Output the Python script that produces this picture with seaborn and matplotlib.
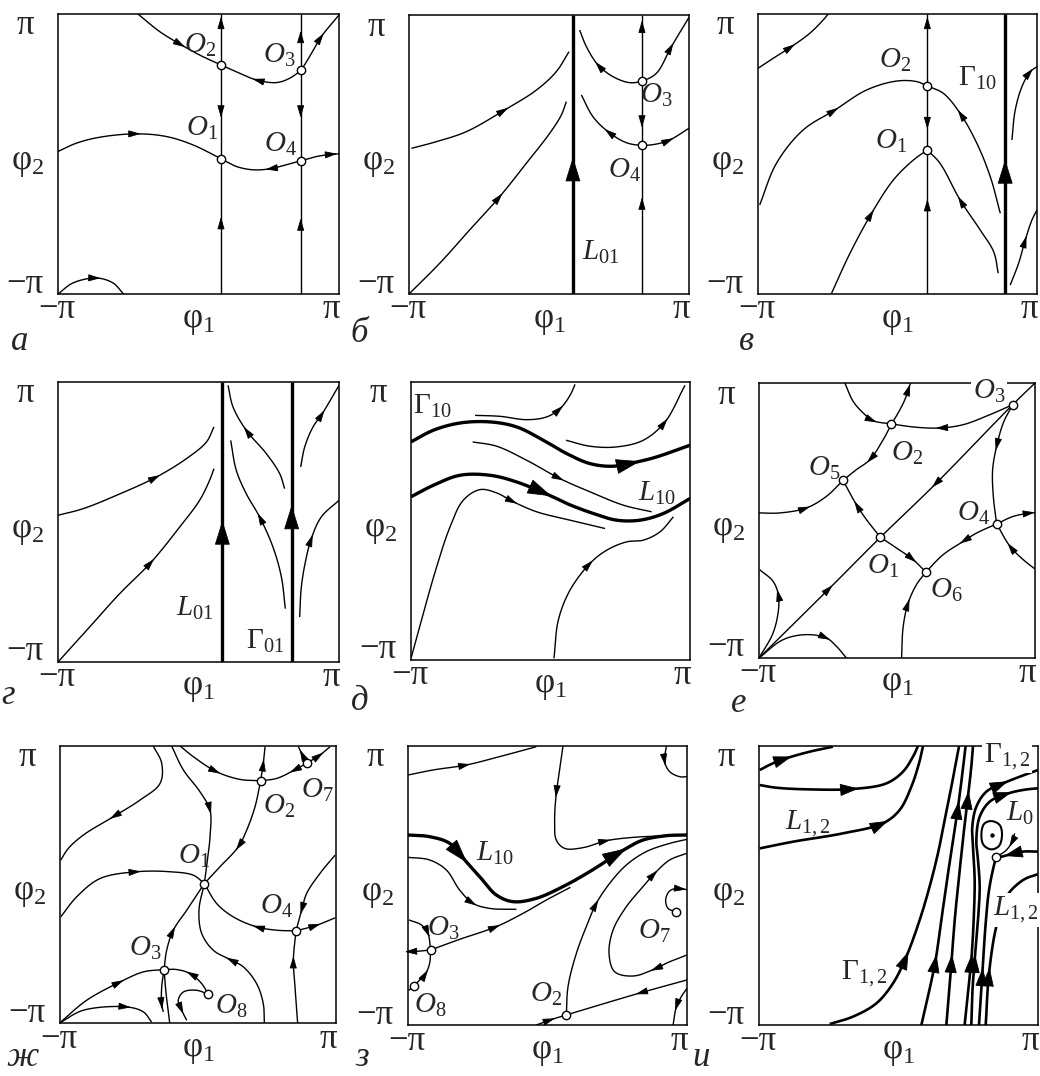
import numpy as np
import matplotlib
matplotlib.use("Agg")
import matplotlib.pyplot as plt
import seaborn as sns

sns.set_theme(style="white")
plt.rcParams["font.family"] = ["Liberation Serif", "DejaVu Serif"]
plt.rcParams["mathtext.fontset"] = "custom"
plt.rcParams["mathtext.rm"] = "Liberation Serif"
plt.rcParams["mathtext.it"] = "Liberation Serif:italic"
plt.rcParams["mathtext.bf"] = "Liberation Serif:bold"

# Phase portraits on the torus (phi1, phi2), coordinates in units of pi.

# ---------------- panel а ----------------
A_CURVES = {
    "stem_o1_o2": [(0.16, -1), (0.16, -0.48), (0.16, -0.034), (0.16, 0.29), (0.16, 0.636), (0.16, 0.95), (0.16, 1)],
    "stem_o4_o3": [(0.727, -1), (0.727, -0.49), (0.727, -0.049), (0.727, 0.29), (0.727, 0.60), (0.727, 0.85), (0.727, 1)],
    "sep_o2_o3": [(-0.431, 1), (-0.276, 0.874), (-0.122, 0.779), (0.008, 0.707), (0.16, 0.636), (0.293, 0.577),
                  (0.412, 0.529), (0.554, 0.510), (0.649, 0.541), (0.727, 0.60), (0.791, 0.696), (0.874, 0.838),
                  (1.0, 0.993)],
    "sep_o1_o4": [(-1, 0.018), (-0.870, 0.077), (-0.703, 0.120), (-0.442, 0.144), (-0.229, 0.125), (-0.039, 0.065),
                  (0.16, -0.034), (0.269, -0.089), (0.388, -0.113), (0.507, -0.106), (0.625, -0.077),
                  (0.727, -0.049), (0.839, -0.018), (0.957, -0.001), (1.0, 0.001)],
    "corner_arc": [(-1, -1), (-0.893, -0.921), (-0.727, -0.886), (-0.609, -0.921), (-0.533, -1)],
}
A_NODES = [(0.16, 0.636), (0.727, 0.60), (0.16, -0.034), (0.727, -0.049)]
A_LABELS = [("$O_2$", 0.008, 0.779), ("$O_3$", 0.578, 0.707), ("$O_1$", 0.025, 0.184), ("$O_4$", 0.582, 0.065)]

# ---------------- panel б ----------------
B_CURVES = {
    "l01": [(0.171, -1), (0.171, -0.02), (0.171, 1)],
    "stem": [(0.664, -1), (0.664, -0.338), (0.664, 0.066), (0.664, 0.223), (0.664, 0.527), (0.664, 0.93), (0.664, 1)],
    "sep_o3": [(0.219, 0.892), (0.267, 0.773), (0.350, 0.642), (0.457, 0.558), (0.576, 0.515), (0.664, 0.527),
               (0.767, 0.582), (0.874, 0.773), (1.0, 0.983)],
    "sep_o4": [(0.231, 0.427), (0.314, 0.271), (0.421, 0.164), (0.552, 0.085), (0.664, 0.066), (0.767, 0.075),
               (0.862, 0.104), (1.0, 0.188)],
    "upper_left": [(-0.983, 0.044), (-0.805, 0.092), (-0.590, 0.164), (-0.317, 0.319), (-0.090, 0.462),
                   (0.052, 0.594), (0.143, 0.737)],
    "diagonal": [(-1, -1), (-0.781, -0.780), (-0.567, -0.541), (-0.352, -0.302), (-0.162, -0.063), (0.005, 0.152),
                 (0.088, 0.283), (0.124, 0.379)],
}
B_NODES = [(0.664, 0.527), (0.664, 0.066)]
B_LABELS = [("$O_3$", 0.767, 0.422), ("$O_4$", 0.540, -0.111), ("$L_{01}$", 0.367, -0.701)]

# ---------------- panel в ----------------
C_CURVES = {
    "stem": [(0.214, -1), (0.214, -0.352), (0.214, 0.029), (0.214, 0.207), (0.214, 0.486), (0.214, 0.95), (0.214, 1)],
    "gamma10": [(0.772, -1), (0.772, -0.04), (0.772, 1)],
    "corner_tl": [(-1, 0.612), (-0.892, 0.683), (-0.760, 0.767), (-0.629, 0.862), (-0.533, 0.957), (-0.497, 1)],
    "o2_left": [(-0.988, -0.364), (-0.868, -0.067), (-0.677, 0.171), (-0.449, 0.314), (-0.222, 0.457),
                (-0.006, 0.521), (0.138, 0.517), (0.214, 0.486)],
    "o2_right": [(0.214, 0.486), (0.329, 0.433), (0.449, 0.290), (0.569, 0.076), (0.665, -0.162), (0.737, -0.424)],
    "o1_left": [(-0.473, -0.995), (-0.341, -0.710), (-0.186, -0.424), (-0.030, -0.186), (0.114, -0.043),
                (0.214, 0.029)],
    "o1_right": [(0.214, 0.029), (0.305, -0.067), (0.449, -0.329), (0.593, -0.543), (0.690, -0.700), (0.722, -0.852)],
    "right_upper": [(0.820, 0.10), (0.844, 0.314), (0.892, 0.481), (0.952, 0.588), (1.0, 0.624)],
    "right_lower": [(0.808, -0.936), (0.868, -0.781), (0.916, -0.614), (0.964, -0.471), (1.0, -0.40)],
}
C_NODES = [(0.214, 0.486), (0.214, 0.029)]
C_LABELS = [("$O_2$", -0.018, 0.671), ("$O_1$", -0.049, 0.088), (r"$\Gamma_{10}$", 0.569, 0.540)]

# ---------------- panel г ----------------
D_CURVES = {
    "l01": [(0.170, -1), (0.170, 0.01), (0.170, 1)],
    "gamma01": [(0.663, -1), (0.663, 0.12), (0.663, 1)],
    "upper_left": [(-1, 0.048), (-0.822, 0.095), (-0.585, 0.190), (-0.300, 0.321), (-0.087, 0.452),
                   (0.056, 0.571), (0.110, 0.679)],
    "diagonal": [(-1, -1), (-0.775, -0.750), (-0.561, -0.512), (-0.336, -0.286), (-0.134, -0.036), (0.008, 0.155),
                 (0.079, 0.298), (0.110, 0.381)],
    "mid_upper": [(0.613, 0.238), (0.578, 0.345), (0.483, 0.488), (0.340, 0.655), (0.246, 0.821), (0.210, 0.976)],
    "mid_lower": [(0.618, -0.619), (0.590, -0.393), (0.530, -0.179), (0.435, 0.036), (0.340, 0.202),
                  (0.269, 0.369), (0.229, 0.583)],
    "right_upper": [(0.727, 0.393), (0.756, 0.536), (0.815, 0.679), (0.881, 0.774), (1.0, 0.976)],
    "right_lower": [(0.720, -0.679), (0.732, -0.464), (0.763, -0.274), (0.803, -0.119), (0.874, 0.036),
                    (1.0, 0.155)],
}
D_NODES = []
D_LABELS = [("$L_{01}$", -0.027, -0.619), (r"$\Gamma_{01}$", 0.476, -0.850)]

# ---------------- panel д ----------------
E_CURVES = {
    "gamma10": [(-1, 0.569), (-0.840, 0.653), (-0.649, 0.705), (-0.434, 0.713), (-0.243, 0.677), (-0.051, 0.581),
                (0.116, 0.485), (0.283, 0.413), (0.450, 0.394), (0.642, 0.43), (0.761, 0.461), (1.0, 0.545)],
    "l10": [(-1, 0.174), (-0.840, 0.257), (-0.649, 0.329), (-0.434, 0.329), (-0.243, 0.281), (0.008, 0.178),
            (0.116, 0.126), (0.307, 0.054), (0.474, 0.006), (0.642, 0.006), (0.809, 0.054), (1.0, 0.162)],
    "top_short": [(-0.541, 0.760), (-0.362, 0.753), (-0.171, 0.729), (-0.027, 0.749), (0.068, 0.808),
                  (0.140, 0.904), (0.176, 0.983)],
    "upper_right": [(0.111, 0.581), (0.283, 0.538), (0.474, 0.533), (0.665, 0.581), (0.821, 0.713), (0.964, 0.976)],
    "between": [(-0.558, 0.569), (-0.386, 0.538), (-0.171, 0.437), (0.068, 0.305), (0.283, 0.210), (0.522, 0.114),
                (0.725, 0.066)],
    "from_corner": [(-1, -0.988), (-0.912, -0.665), (-0.816, -0.329), (-0.720, -0.042), (-0.625, 0.150),
                    (-0.505, 0.226), (-0.386, 0.202), (-0.266, 0.138), (-0.099, 0.066), (0.140, 0.006),
                    (0.391, -0.054)],
    "from_bottom": [(0.025, -0.988), (0.056, -0.713), (0.140, -0.497), (0.283, -0.305), (0.403, -0.210),
                    (0.546, -0.150), (0.665, -0.138), (0.785, -0.078), (0.881, 0.030)],
}
E_NODES = []
E_LABELS = [(r"$\Gamma_{10}$", -0.847, 0.825), ("$L_{10}$", 0.766, 0.198)]

# ---------------- panel е ----------------
F_CURVES = {
    "diagonal": [(-1, -1), (-0.487, -0.491), (-0.120, -0.122), (0.274, 0.261), (0.838, 0.842), (1, 1)],
    "o3_o2": [(0.838, 0.842), (0.674, 0.770), (0.480, 0.697), (0.311, 0.673), (0.141, 0.678), (-0.040, 0.702)],
    "top_o2": [(-0.378, 1), (-0.318, 0.867), (-0.245, 0.782), (-0.173, 0.726), (-0.040, 0.702)],
    "o2_top": [(-0.040, 0.702), (0.008, 0.782), (0.057, 0.879), (0.086, 0.964), (0.098, 1)],
    "o2_o5": [(-0.040, 0.702), (-0.100, 0.588), (-0.197, 0.442), (-0.294, 0.370), (-0.391, 0.292)],
    "left_o5": [(-1, 0.055), (-0.850, 0.055), (-0.657, 0.091), (-0.511, 0.176), (-0.391, 0.292)],
    "o1_o5": [(-0.120, -0.122), (-0.221, 0.006), (-0.294, 0.115), (-0.391, 0.292)],
    "o1_o6": [(-0.120, -0.122), (-0.004, -0.200), (0.117, -0.285), (0.209, -0.375)],
    "o4_o6": [(0.722, -0.025), (0.577, -0.091), (0.480, -0.152), (0.335, -0.248), (0.209, -0.375)],
    "o4_right": [(0.722, -0.025), (0.843, 0.030), (0.970, 0.055), (1, 0.057)],
    "o3_o4": [(0.838, 0.842), (0.770, 0.709), (0.722, 0.539), (0.693, 0.370), (0.698, 0.176), (0.722, -0.025)],
    "right_o4": [(1, -0.353), (0.915, -0.285), (0.819, -0.188), (0.722, -0.025)],
    "corner_up": [(-1, -1), (-0.898, -0.818), (-0.858, -0.64), (-0.862, -0.53), (-0.90, -0.44), (-0.995, -0.358)],
    "corner_right": [(-1, -1), (-0.826, -0.867), (-0.657, -0.830), (-0.511, -0.855), (-0.439, -0.915), (-0.366, -1)],
    "bottom_o6": [(0.033, -1), (0.045, -0.770), (0.081, -0.600), (0.141, -0.467), (0.209, -0.375)],
}
F_NODES = [(0.838, 0.842), (-0.040, 0.702), (-0.391, 0.292), (-0.120, -0.122), (0.722, -0.025), (0.209, -0.375)]
F_LABELS = [("$O_3$", 0.666, 0.939), ("$O_2$", 0.074, 0.491), ("$O_5$", -0.524, 0.382), ("$O_4$", 0.553, 0.055),
            ("$O_1$", -0.100, -0.333), ("$O_6$", 0.359, -0.508)]

# ---------------- panel ж ----------------
G_CURVES = {
    "top_left": [(-0.324, 1), (-0.263, 0.875), (-0.275, 0.730), (-0.420, 0.610), (-0.614, 0.489), (-0.831, 0.357),
                 (-0.940, 0.260), (-0.995, 0.176)],
    "top_o1": [(-0.191, 1), (-0.106, 0.827), (0.014, 0.670), (0.087, 0.537), (0.087, 0.345), (0.068, 0.176),
               (0.046, 0.007)],
    "top_o2": [(-0.130, 1), (-0.034, 0.923), (0.135, 0.814), (0.304, 0.759), (0.454, 0.749)],
    "o2_up": [(0.454, 0.749), (0.473, 0.875), (0.486, 0.995)],
    "o7_o2": [(0.787, 0.875), (0.691, 0.822), (0.570, 0.766), (0.454, 0.749)],
    "o7_left": [(0.787, 0.875), (0.751, 0.947), (0.727, 0.995)],
    "o7_right": [(0.787, 0.875), (0.884, 0.935), (0.957, 0.995)],
    "o2_o1": [(0.454, 0.749), (0.413, 0.561), (0.353, 0.393), (0.292, 0.272), (0.159, 0.128), (0.046, 0.007)],
    "left_o1": [(-0.995, -0.234), (-0.879, -0.089), (-0.710, 0.043), (-0.444, 0.092), (-0.203, 0.092),
                (-0.034, 0.067), (0.046, 0.007)],
    "o4_o1": [(0.710, -0.335), (0.570, -0.330), (0.425, -0.306), (0.256, -0.234), (0.135, -0.137), (0.046, 0.007)],
    "o4_right": [(0.710, -0.335), (0.860, -0.294), (0.993, -0.241)],
    "right_o4": [(0.993, 0.212), (0.884, 0.080), (0.787, -0.065), (0.751, -0.186), (0.710, -0.335)],
    "bottom_o4": [(0.722, -1), (0.703, -0.740), (0.691, -0.547), (0.710, -0.335)],
    "bottom_o1": [(0.481, -1), (0.473, -0.860), (0.425, -0.716), (0.329, -0.595), (0.232, -0.542), (0.111, -0.475),
                  (0.027, -0.354), (0.007, -0.186), (0.046, 0.007)],
    "o3_o1": [(-0.246, -0.614), (-0.227, -0.475), (-0.179, -0.330), (-0.082, -0.186), (0.046, 0.007)],
    "o3_down": [(-0.246, -0.614), (-0.263, -0.740), (-0.263, -0.872), (-0.251, -0.920)],
    "o3_bottom": [(-0.246, -0.614), (-0.232, -0.78), (-0.215, -0.92), (-0.205, -1)],
    "corner_o3": [(-0.995, -0.993), (-0.807, -0.836), (-0.565, -0.704), (-0.396, -0.631), (-0.246, -0.614)],
    "o8_o3": [(0.075, -0.793), (0.027, -0.716), (-0.058, -0.643), (-0.155, -0.614), (-0.246, -0.614)],
    "o8_loop": [(0.075, -0.793), (-0.010, -0.764), (-0.106, -0.776), (-0.143, -0.836), (-0.118, -0.908),
                (-0.082, -0.981)],
    "corner_arc": [(-0.995, -0.995), (-0.831, -0.908), (-0.517, -0.884), (-0.396, -0.920), (-0.336, -0.993)],
}
G_NODES = [(0.046, 0.007), (0.454, 0.749), (0.787, 0.875), (0.710, -0.335), (-0.246, -0.614), (0.075, -0.793)]
G_LABELS = [("$O_1$", -0.029, 0.200), ("$O_2$", 0.587, 0.561), ("$O_7$", 0.865, 0.682), ("$O_4$", 0.570, -0.161),
            ("$O_3$", -0.384, -0.463), ("$O_8$", 0.237, -0.877)]

# ---------------- panel з ----------------
H_CURVES = {
    "top": [(-1, 0.792), (-0.821, 0.828), (-0.582, 0.864), (-0.343, 0.924), (-0.080, 0.995)],
    "drop": [(0.111, 1), (0.087, 0.828), (0.063, 0.661), (0.051, 0.470), (0.063, 0.326), (0.123, 0.266),
             (0.254, 0.271), (0.422, 0.321), (0.613, 0.345), (0.804, 0.355)],
    "l10": [(-1, 0.362), (-0.845, 0.350), (-0.701, 0.302), (-0.577, 0.164), (-0.486, 0.063), (-0.367, -0.068),
            (-0.247, -0.116), (-0.080, -0.092), (0.111, -0.008), (0.302, 0.099), (0.565, 0.266), (0.685, 0.326),
            (0.852, 0.357), (1, 0.362)],
    "below_l10": [(-1, 0.202), (-0.845, 0.183), (-0.725, 0.111), (-0.630, -0.032), (-0.534, -0.128),
                  (-0.415, -0.164), (-0.223, -0.171)],
    "o3_up": [(-0.838, -0.462), (-0.630, -0.386), (-0.367, -0.295), (-0.176, -0.200), (-0.008, -0.104),
              (0.164, -0.013)],
    "in_o3": [(-0.993, -0.247), (-0.904, -0.283), (-0.857, -0.343), (-0.838, -0.462)],
    "o8_o3": [(-0.959, -0.720), (-0.916, -0.677), (-0.873, -0.630), (-0.845, -0.558), (-0.838, -0.462)],
    "o3_left": [(-0.838, -0.462), (-0.916, -0.470), (-0.993, -0.474)],
    "o8_left": [(-0.959, -0.720), (-0.995, -0.752)],
    "o2_up": [(0.135, -0.928), (0.147, -0.725), (0.207, -0.486), (0.278, -0.295), (0.350, -0.128), (0.446, 0.016),
              (0.565, 0.147), (0.708, 0.243), (0.876, 0.302), (1.0, 0.331)],
    "oval": [(1.0, -0.498), (0.876, -0.546), (0.768, -0.599), (0.613, -0.649), (0.481, -0.618), (0.441, -0.486),
             (0.470, -0.319), (0.565, -0.152), (0.685, -0.008), (0.768, 0.087), (0.876, 0.183), (1.0, 0.231)],
    "o7_curl": [(0.919, -0.188), (0.864, -0.164), (0.847, -0.104), (0.871, -0.044), (0.915, -0.022),
                (0.965, -0.025), (1.0, -0.03)],
    "through_o2": [(-0.080, -1), (0.025, -0.962), (0.135, -0.928), (0.661, -0.771), (1.0, -0.677)],
    "bottom_right": [(1.0, -0.737), (0.959, -0.797), (0.924, -0.869), (0.900, -1)],
    "top_right": [(0.852, 1), (0.840, 0.888), (0.876, 0.816), (0.948, 0.780), (1.0, 0.780)],
}
H_NODES = [(-0.838, -0.462), (-0.959, -0.720), (0.135, -0.928), (0.919, -0.188)]
H_LABELS = [("$L_{10}$", -0.379, 0.231), ("$O_3$", -0.749, -0.307), ("$O_8$", -0.838, -0.857),
            ("$O_2$", -0.013, -0.778), ("$O_7$", 0.768, -0.331)]

# ---------------- panel и ----------------
I_CURVES = {
    "top": [(-0.995, 0.828), (-0.900, 0.876), (-0.804, 0.912), (-0.637, 0.959), (-0.470, 0.995)],
    "second": [(-0.995, 0.720), (-0.876, 0.701), (-0.637, 0.689), (-0.326, 0.692), (-0.087, 0.732),
               (0.032, 0.816), (0.104, 0.924), (0.140, 1.0)],
    "l12": [(-0.995, 0.266), (-0.756, 0.314), (-0.398, 0.374), (-0.111, 0.446), (0.008, 0.541), (0.092, 0.708),
            (0.147, 0.876), (0.176, 1)],
    "gamma12": [(-0.493, -0.993), (-0.326, -0.940), (-0.159, -0.845), (-0.039, -0.701), (0.056, -0.510),
                (0.152, -0.247), (0.223, -0.008), (0.283, 0.231), (0.331, 0.470), (0.379, 0.708), (0.415, 0.900),
                (0.434, 1)],
    "bundle_1": [(0.164, -1), (0.211, -0.797), (0.266, -0.534), (0.307, -0.247), (0.348, 0.039), (0.391, 0.326),
                 (0.427, 0.565), (0.458, 0.804), (0.481, 1)],
    "bundle_2": [(0.343, -1), (0.362, -0.773), (0.381, -0.534), (0.403, -0.247), (0.434, 0.063), (0.467, 0.374),
                 (0.498, 0.637), (0.522, 0.852), (0.534, 1)],
    "bundle_3": [(0.474, -1), (0.498, -0.773), (0.522, -0.534), (0.539, -0.247), (0.546, 0.039), (0.534, 0.278),
                 (0.529, 0.422), (0.558, 0.565), (0.630, 0.673), (0.749, 0.732), (0.869, 0.780), (1.0, 0.828)],
    "bundle_4": [(0.522, -1), (0.529, -0.773), (0.546, -0.534), (0.570, -0.247), (0.582, -0.008), (0.570, 0.183),
                 (0.558, 0.326), (0.582, 0.493), (0.654, 0.601), (0.773, 0.656), (0.893, 0.685), (1.0, 0.697)],
    "l0": [(0.665, 0.462), (0.725, 0.434), (0.742, 0.362), (0.720, 0.283), (0.665, 0.259), (0.610, 0.290),
           (0.594, 0.362), (0.613, 0.441), (0.665, 0.462)],
    "right_saddle": [(1.0, 0.243), (0.893, 0.243), (0.797, 0.222), (0.737, 0.207), (0.701, 0.207)],
    "above_saddle": [(0.833, 0.374), (0.809, 0.302), (0.761, 0.243), (0.701, 0.207)],
    "l12_low": [(0.577, -1), (0.601, -0.630), (0.625, -0.271), (0.649, -0.032), (0.682, 0.135), (0.701, 0.207)],
    "l12_right": [(0.625, -1), (0.649, -0.630), (0.701, -0.295), (0.773, -0.080), (0.893, 0.039), (1.0, 0.082)],
}
I_NODES = [(0.701, 0.207)]
I_CENTRE = [(0.668, 0.362)]
I_LABELS = [("$L_{1,2}$", -0.649, 0.446), (r"$\Gamma_{1,2}$", -0.243, -0.634), (r"$\Gamma_{1,2}$", 0.778, 0.924),
            ("$L_0$", 0.869, 0.517), ("$L_{1,2}$", 0.845, -0.176)]

# ---------------- drawing styles (weight, arrowheads at waypoint index & direction) ----------------
A_STYLE = {"stem_o1_o2": ("thin", [(1, 1), (3, -1), (5, 1)]), "stem_o4_o3": ("thin", [(1, 1), (3, -1), (5, 1)]),
           "sep_o2_o3": ("thin", [(2, 1), (6, -1), (11, 1)]), "sep_o1_o4": ("thin", [(3, 1), (9, -1), (13, 1)]),
           "corner_arc": ("thin", [(2, 1)])}
B_STYLE = {"l01": ("thick", [(1, 1)]), "stem": ("thin", [(1, 1), (3, -1), (5, 1)]),
           "sep_o3": ("thin", [(2, -1), (7, 1)]), "sep_o4": ("thin", [(2, -1), (6, 1)]),
           "upper_left": ("thin", [(3, 1)]), "diagonal": ("thin", [(3, 1)])}
C_STYLE = {"stem": ("thin", [(1, 1), (3, -1), (5, 1)]), "gamma10": ("thick", [(1, 1)]),
           "corner_tl": ("thin", [(2, 1)]), "o2_left": ("thin", [(3, 1)]), "o2_right": ("thin", [(2, -1)]),
           "o1_left": ("thin", [(2, 1)]), "o1_right": ("thin", [(2, -1)]), "right_upper": ("thin", [(3, 1)]),
           "right_lower": ("thin", [(2, 1)])}
D_STYLE = {"l01": ("thick", [(1, 1)]), "gamma01": ("thick", [(1, 1)]), "upper_left": ("thin", [(3, 1)]),
           "diagonal": ("thin", [(3, 1)]), "mid_upper": ("thin", [(3, 1)]), "mid_lower": ("thin", [(3, 1)]),
           "right_upper": ("thin", [(3, 1)]), "right_lower": ("thin", [(3, 1)])}
E_STYLE = {"gamma10": ("thick", [(9, 1)]), "l10": ("thick", [(5, 1)]), "top_short": ("thin", [(4, 1)]),
           "upper_right": ("thin", [(4, 1)]), "between": ("thin", [(3, 1)]), "from_corner": ("thin", [(7, 1)]),
           "from_bottom": ("thin", [(3, 1)])}
F_STYLE = {"diagonal": ("thin", [(1, 1), (3, -1)]), "o3_o2": ("thin", [(3, 1)]), "top_o2": ("thin", [(3, 1)]),
           "o2_top": ("thin", [(3, 1)]), "o2_o5": ("thin", [(2, 1)]), "left_o5": ("thin", [(2, 1)]),
           "o1_o5": ("thin", [(2, 1)]), "o1_o6": ("thin", [(2, 1)]), "o4_o6": ("thin", [(2, 1)]),
           "o4_right": ("thin", [(2, 1)]), "o3_o4": ("thin", [(2, 1)]), "right_o4": ("thin", [(2, 1)]),
           "corner_up": ("thin", [(3, 1)]), "corner_right": ("thin", [(3, 1)]), "bottom_o6": ("thin", [(2, 1)])}
G_STYLE = {"top_left": ("thin", [(4, 1)]), "top_o1": ("thin", [(3, 1)]), "top_o2": ("thin", [(2, 1)]),
           "o2_up": ("thin", [(1, 1)]), "o7_o2": ("thin", [(1, 1)]), "o7_left": ("thin", [(1, 1)]),
           "o7_right": ("thin", [(1, 1)]), "o2_o1": ("thin", [(3, 1)]), "left_o1": ("thin", [(3, 1)]),
           "o4_o1": ("thin", [(2, 1)]), "o4_right": ("thin", [(1, 1)]), "right_o4": ("thin", [(3, 1)]),
           "bottom_o4": ("thin", [(2, 1)]), "bottom_o1": ("thin", [(4, 1)]), "o3_o1": ("thin", [(2, 1)]),
           "o3_down": ("thin", [(2, 1)]), "o3_bottom": ("thin", []), "corner_o3": ("thin", [(2, 1)]),
           "o8_o3": ("thin", [(2, 1)]), "o8_loop": ("thin", [(4, 1)]), "corner_arc": ("thin", [(2, 1)])}
H_STYLE = {"top": ("thin", [(2, 1)]), "drop": ("thin", [(2, 1), (7, 1)]), "l10": ("thick", [(3, 1), (10, 1)]),
           "below_l10": ("thin", [(4, 1)]), "o3_up": ("thin", [(2, 1)]), "in_o3": ("thin", [(2, 1)]),
           "o8_o3": ("thin", [(2, 1)]), "o3_left": ("thin", [(2, 1)]), "o8_left": ("thin", []),
           "o2_up": ("thin", [(4, 1)]), "oval": ("thin", [(2, 1), (9, 1)]), "o7_curl": ("thin", [(5, 1)]),
           "through_o2": ("thin", [(1, 1), (3, -1)]), "bottom_right": ("thin", [(2, 1)]),
           "top_right": ("thin", [(1, 1)])}
I_STYLE = {"top": ("bold", [(2, 1)]), "second": ("bold", [(3, 1)]), "l12": ("bold", [(3, 1)]),
           "gamma12": ("bold", [(4, 1)]), "bundle_1": ("bold", [(2, 1), (6, 1)]),
           "bundle_2": ("bold", [(2, 1), (6, 1)]), "bundle_3": ("bold", [(2, 1), (9, 1)]),
           "bundle_4": ("bold", [(2, 1), (9, 1)]), "l0": ("loop", []), "right_saddle": ("bold", [(2, 1)]),
           "above_saddle": ("thin", [(1, 1)]), "l12_low": ("bold", [(1, 1)]), "l12_right": ("bold", [(1, 1)])}

LINE_WIDTH = {"thin": 1.0, "thick": 2.4, "bold": 1.9, "loop": 1.5}
ARROW_HEAD = {"thin": (0.75, 0.22, 0.03), "thick": (1.6, 0.5, 0.0), "bold": (1.2, 0.4, 0.04), "loop": (0.8, 0.25, 0.0)}

# panel boxes in pixels (left, top, right, bottom) and the italic panel letter position
PANELS = [
    ("а", (58, 14, 339, 294), (20, 341), A_CURVES, A_STYLE, A_NODES, A_LABELS),
    ("б", (409, 15, 689, 294), (359, 333), B_CURVES, B_STYLE, B_NODES, B_LABELS),
    ("в", (758, 14, 1037, 294), (746, 342), C_CURVES, C_STYLE, C_NODES, C_LABELS),
    ("г", (58, 382, 339, 662), (8, 696), D_CURVES, D_STYLE, D_NODES, D_LABELS),
    ("д", (411, 382, 690, 660), (360, 702), E_CURVES, E_STYLE, E_NODES, E_LABELS),
    ("е", (759, 383, 1035, 658), (739, 703), F_CURVES, F_STYLE, F_NODES, F_LABELS),
    ("ж", (60, 746, 336, 1023), (22, 1058), G_CURVES, G_STYLE, G_NODES, G_LABELS),
    ("з", (408, 746, 687, 1025), (362, 1058), H_CURVES, H_STYLE, H_NODES, H_LABELS),
    ("и", (759, 746, 1038, 1025), (701, 1058), I_CURVES, I_STYLE, I_NODES, I_LABELS),
]
# labels drawn over a white patch that breaks the frame line beneath them
MASKED = {("е", 0), ("и", 2), ("и", 4)}

W, H = 1040, 1076
N_SUB = 16


def stroke(points, closed=False):
    """Centripetal Catmull-Rom stroke through the waypoints (waypoint k sits at index k*N_SUB)."""
    P = np.asarray(points, float)
    if closed:
        ext = np.vstack([P[-2], P, P[1]])
    else:
        ext = np.vstack([2 * P[0] - P[1], P, 2 * P[-1] - P[-2]])
    out = []
    for i in range(1, len(ext) - 2):
        p0, p1, p2, p3 = ext[i - 1], ext[i], ext[i + 1], ext[i + 2]
        t0 = 0.0
        t1 = t0 + max(np.hypot(*(p1 - p0)), 1e-9) ** 0.5
        t2 = t1 + max(np.hypot(*(p2 - p1)), 1e-9) ** 0.5
        t3 = t2 + max(np.hypot(*(p3 - p2)), 1e-9) ** 0.5
        t = np.linspace(t1, t2, N_SUB, endpoint=False)[:, None]
        a1 = (t1 - t) / (t1 - t0) * p0 + (t - t0) / (t1 - t0) * p1
        a2 = (t2 - t) / (t2 - t1) * p1 + (t - t1) / (t2 - t1) * p2
        a3 = (t3 - t) / (t3 - t2) * p2 + (t - t2) / (t3 - t2) * p3
        b1 = (t2 - t) / (t2 - t0) * a1 + (t - t0) / (t2 - t0) * a2
        b2 = (t3 - t) / (t3 - t1) * a2 + (t - t1) / (t3 - t1) * a3
        out.append((t2 - t) / (t2 - t1) * b1 + (t - t1) / (t2 - t1) * b2)
    out.append(P[-1][None])
    return np.vstack(out)


def arrowhead(ax, dense, k, direction, kind):
    hl, hw, shift = ARROW_HEAD[kind]
    i = min(k * N_SUB, len(dense) - 1)
    j0, j1 = max(i - 2, 0), min(i + 2, len(dense) - 1)
    tan = dense[j1] - dense[j0]
    tan = tan / np.hypot(*tan) * direction
    tip = dense[i] + tan * shift
    ax.annotate("", xy=tip, xytext=tip - tan * 0.03, annotation_clip=False,
                arrowprops=dict(arrowstyle=f"-|>,head_length={hl},head_width={hw}", color="black",
                                lw=0.6, shrinkA=0, shrinkB=0, mutation_scale=10), zorder=4)


def ftext(x, y, s, **kw):
    fig.text(x / W, 1 - y / H, s, **kw)


fig = plt.figure(figsize=(W / 100, H / 100), dpi=100)
TICK_FS = 25
NAME_FS = 21

for letter, (l, t, r, b), (lx, ly), curves, styles, nodes, labels in PANELS:
    ax = fig.add_axes([l / W, 1 - b / H, (r - l) / W, (b - t) / H])
    ax.set_xlim(-1, 1)
    ax.set_ylim(-1, 1)
    ax.set_xticks([])
    ax.set_yticks([])
    for sp in ax.spines.values():
        sp.set_color("black")
        sp.set_linewidth(1.1)

    for name, pts in curves.items():
        weight, arrows = styles[name]
        dense = stroke(pts, closed=(weight == "loop"))
        sns.lineplot(x=dense[:, 0], y=dense[:, 1], sort=False, estimator=None, color="black",
                     lw=LINE_WIDTH[weight], ax=ax, solid_capstyle="butt")
        for k, d in arrows:
            arrowhead(ax, dense, k, d, weight)

    if nodes:
        nd = np.array(nodes)
        sns.scatterplot(x=nd[:, 0], y=nd[:, 1], s=36, color="white", edgecolor="black", linewidth=1.0,
                        zorder=5, clip_on=False, ax=ax, legend=False)
    if letter == "и":
        c = np.array(I_CENTRE)
        sns.scatterplot(x=c[:, 0], y=c[:, 1], s=10, color="black", linewidth=0, zorder=5, ax=ax, legend=False)

    for j, (txt, u, v) in enumerate(labels):
        kw = dict(fontsize=NAME_FS, ha="center", va="center", zorder=6, clip_on=False)
        if (letter, j) in MASKED:
            kw["bbox"] = dict(facecolor="white", edgecolor="none", pad=1.0)
        ax.text(u, v, txt, **kw)
    ax.set_xlabel("")
    ax.set_ylabel("")

    # axis captions
    h = b - t
    ftext(l - 33, t + 12, "π", fontsize=TICK_FS, ha="center", va="center")
    ftext(l - 30, t + 0.53 * h, "φ$_2$", fontsize=TICK_FS, ha="center", va="center")
    ftext(l - 33, b - 10, "−π", fontsize=TICK_FS, ha="center", va="center")
    ftext(l - 1, b + 16, "−π", fontsize=TICK_FS, ha="center", va="center")
    ftext((l + r) / 2, b + 26, "φ$_1$", fontsize=TICK_FS, ha="center", va="center")
    ftext(r - 8, b + 16, "π", fontsize=TICK_FS, ha="center", va="center")
    ftext(lx, ly, letter, fontsize=25, fontstyle="italic", ha="center", va="center")

fig.savefig("out.png", dpi=100)
